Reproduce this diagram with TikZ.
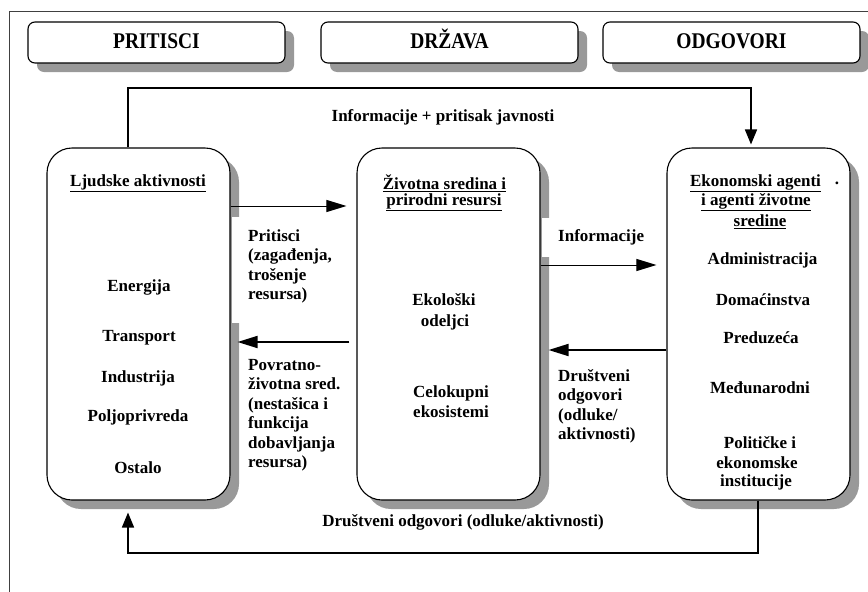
\documentclass[tikz,border=0pt]{standalone}
\usepackage{fontspec}
\setmainfont{Liberation Serif}
\usetikzlibrary{arrows.meta,shadows}
\definecolor{shgray}{HTML}{999999}
\definecolor{framegray}{HTML}{404040}
\newcommand{\hdrtext}[1]{\scalebox{1}[1.15]{#1}}
\begin{document}
\begin{tikzpicture}[x=1pt,y=-1pt,
  txt/.style={font=\fontsize{17}{19.5}\selectfont\bfseries, inner sep=0pt},
  lbl/.style={txt, align=left, anchor=west},
  shad/.style={drop shadow={shadow xshift=9pt, shadow yshift=-9pt, fill=shgray, opacity=1}},
  hdr/.style={draw, line width=1.1pt, rounded corners=7pt, fill=white, minimum width=257pt, minimum height=41pt, inner sep=0pt, text height=15pt, text depth=4pt, font=\fontsize{19.5}{22}\selectfont\bfseries, shad},
  bigbox/.style={draw, line width=1.1pt, rounded corners=25pt, fill=white, minimum width=183pt, minimum height=352pt, inner sep=0pt, shad},
  arr/.style={-{Triangle[length=15pt,width=12pt]}, line width=1.6pt},
  harr/.style={-{Triangle[length=20pt,width=12pt]}},
]
\useasboundingbox (0,0) rectangle (868,592);
% frame
\draw[framegray, line width=1pt] (868,11) -- (9,11) -- (9,592);
% header boxes
\node[hdr] (h1) at (156.5,42.5) {\hdrtext{PRITISCI}};
\node[hdr] (h2) at (449.5,42.5) {\hdrtext{DRŽAVA}};
\node[hdr] (h3) at (731.5,42.5) {\hdrtext{ODGOVORI}};
% main boxes
\node[bigbox] (L) at (138.5,324) {};
\node[bigbox] (M) at (448.5,324) {};
\node[bigbox] (R) at (758.5,324) {};
% shadow gaps behind labels
\fill[white] (231.5,217) rectangle (241,323);
\fill[white] (541.5,218) rectangle (551,257);
% left box text
\node[txt] (l0) at (138,183) {\underline{Ljudske aktivnosti}};
\node[txt] (l1) at (139,287) {Energija};
\node[txt] (l2) at (139,338) {Transport};
\node[txt] (l3) at (138,378) {Industrija};
\node[txt] (l4) at (138,417) {Poljoprivreda};
\node[txt] (l5) at (138,468) {Ostalo};
% middle box text
\node[txt] (m0) at (444.5,183) {\underline{Životna sredina i}};
\node[txt] (m1) at (444,202) {\underline{prirodni resursi}};
\node[txt] (m2) at (444,300) {Ekološki};
\node[txt] (m3) at (445,322) {odeljci};
\node[txt] (m4) at (451,393) {Celokupni};
\node[txt] (m5) at (451,412) {ekosistemi};
% right box text
\node[txt] (r0) at (755.5,183) {\underline{Ekonomski agenti}};
\node[txt] (r0d) at (837,183) {.};
\node[txt] (r1) at (756,202) {\underline{i agenti životne}};
\node[txt] (r2) at (760,222) {\underline{sredine}};
\node[txt] (r3) at (762.5,260) {Administracija};
\node[txt] (r4) at (763,300) {Domaćinstva};
\node[txt] (r5) at (761,338) {Preduzeća};
\node[txt] (r6) at (760,388) {Međunarodni};
\node[txt] (r7) at (760,443) {Političke i};
\node[txt] (r8) at (757,463) {ekonomske};
\node[txt] (r9) at (756,482) {institucije};
% labels
\node[lbl] (pl) at (248,266.5) {Pritisci\\(zagađenja,\\trošenje\\resursa)};
\node[lbl] (fl) at (248,415) {Povratno-\\životna sred.\\(nestašica i\\funkcija\\dobavljanja\\resursa)};
\node[lbl] (il) at (558,237) {Informacije};
\node[lbl] (dl) at (558,406.5) {Društveni\\odgovori\\(odluke/\\aktivnosti)};
\node[txt] (tl) at (443,117) {Informacije + pritisak javnosti};
\node[txt] (bl) at (463,522) {Društveni odgovori (odluke/aktivnosti)};
% helper coordinates
\coordinate (yP) at (0,206);
\coordinate (yR) at (0,342);
\coordinate (yI) at (0,265);
\coordinate (yD) at (0,350);
\coordinate (t1) at (128,88);
\coordinate (t2) at (751,88);
\coordinate (b1) at (758,553);
\coordinate (b2) at (128,553);
% horizontal arrows
\draw[harr, line width=1pt, shorten >=10pt] (L.east |- yP) -- (M.west |- yP);
\draw[harr, line width=1.8pt, shorten <=7pt, shorten >=7pt] (M.west |- yR) -- (L.east |- yR);
\draw[harr, line width=1pt, shorten >=10pt] (M.east |- yI) -- (R.west |- yI);
\draw[harr, line width=1.8pt, shorten >=8pt] (R.west |- yD) -- (M.east |- yD);
% feedback loops
\draw[arr, shorten >=3pt] (L.north -| t1) -- (t1) -- (t2) -- (R.north -| t2);
\draw[arr, shorten >=12pt] (R.south -| b1) -- (b1) -- (b2) -- (L.south -| b2);
\end{tikzpicture}
\end{document}
